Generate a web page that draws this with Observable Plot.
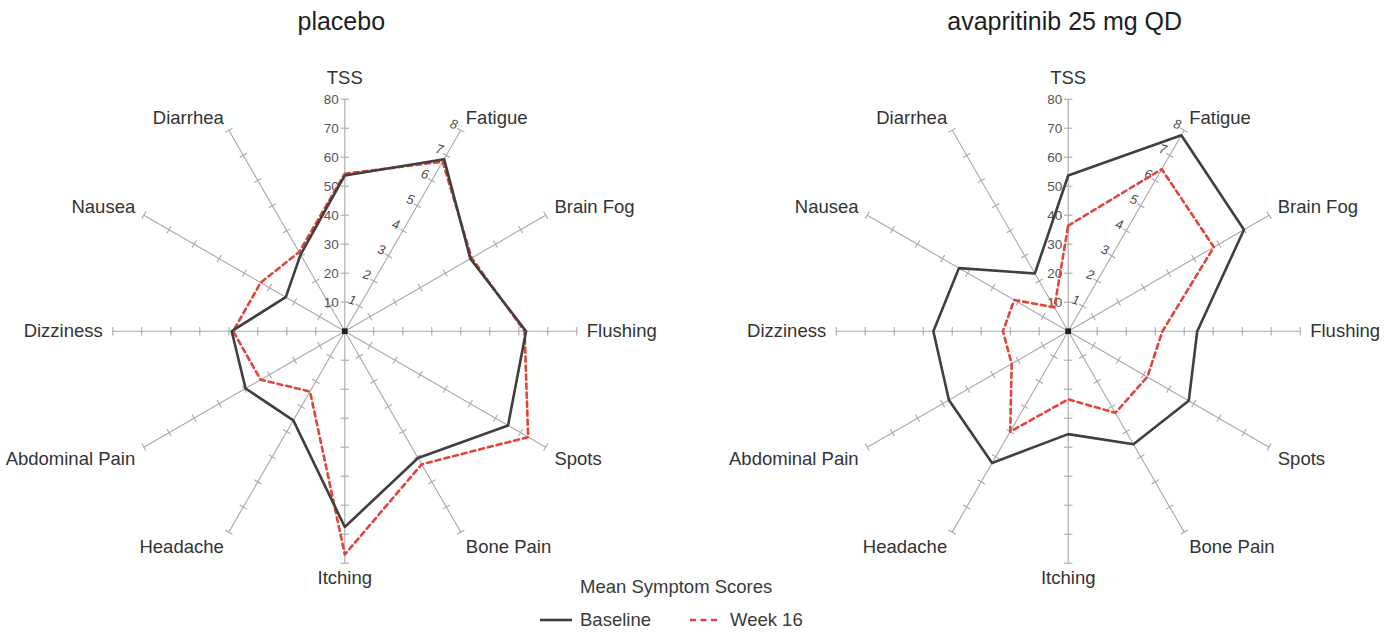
<!DOCTYPE html>
<html>
<head>
<meta charset="utf-8">
<script src="https://cdn.jsdelivr.net/npm/d3@7"></script>
<script src="https://cdn.jsdelivr.net/npm/@observablehq/plot@0.6"></script>
<style>
  body { margin: 0; background: #fff; font-family: "Liberation Sans", Arial, sans-serif; }
  #wrap { position: relative; width: 1397px; height: 634px; overflow: hidden; }
  #chart { position: absolute; left: 0; top: 0; }
  .title { position: absolute; top: 9px; font-size: 25px; line-height: 25px; color: #1e1e1e; transform: translateX(-50%); white-space: nowrap; }
  .legend-title { position: absolute; left: 580px; top: 578px; font-size: 18.5px; line-height: 18.5px; color: #3a3a3a; white-space: nowrap; }
  .legend-item { position: absolute; top: 610px; font-size: 18.5px; line-height: 20px; color: #3a3a3a; white-space: nowrap; }
  .legend-swatch { position: absolute; top: 613px; }
</style>
</head>
<body>
<div id="wrap">
  <div id="chart"></div>
</div>
<script>
// Symptom axes, clockwise from the top
const categories = ["TSS", "Fatigue", "Brain Fog", "Flushing", "Spots", "Bone Pain", "Itching", "Headache", "Abdominal Pain", "Dizziness", "Nausea", "Diarrhea"];
const panels = ["placebo", "avapritinib 25 mg QD"];
const seriesNames = ["Baseline", "Week 16"];

// Mean symptom scores (TSS on a 0–80 scale, other symptoms 0–8)
const placeboBaseline     = [53.7, 6.85, 5.0, 6.25, 6.5, 5.05, 6.75, 3.55, 3.95, 3.9, 2.35, 3.05];
const placeboWeek16       = [54.3, 6.75, 5.05, 6.2, 7.3, 5.3, 7.7, 2.4, 3.35, 3.85, 3.35, 3.15];
const avapritinibBaseline = [53.7, 7.8, 7.0, 4.45, 4.8, 4.5, 3.55, 5.25, 4.75, 4.65, 4.35, 2.3];
const avapritinibWeek16   = [36.4, 6.45, 5.8, 3.25, 3.15, 3.25, 2.35, 4.0, 2.25, 2.25, 2.15, 0.95];

// Axis tick labels
const tssTicks = [10, 20, 30, 40, 50, 60, 70, 80];
const symptomTicks = [1, 2, 3, 4, 5, 6, 7, 8];
const maxScore = 8;
const tssFactor = 10;

// Layout (pixels)
const W = 1397, H = 634;
const PX = 29;                       // pixels per score unit
const centers = [[344.3, 330.7], [1067.7, 330.7]];
const baseX = centers[0][0], baseY = centers[0][1];
const panelOffset = centers.map(([cx]) => (cx - baseX) / PX);

const colors = { "Baseline": "#3f3f3f", "Week 16": "#e0453a" };

const angle = i => (i * 2 * Math.PI) / categories.length;
const polar = (p, i, r) => ({ x: panelOffset[p] + r * Math.sin(angle(i)), y: r * Math.cos(angle(i)) });

// Spokes
const spokes = [];
panels.forEach((_, p) => categories.forEach((c, i) => {
  const a = polar(p, i, 0), b = polar(p, i, maxScore);
  spokes.push({ x1: a.x, y1: a.y, x2: b.x, y2: b.y });
}));

// Tick marks across each spoke
const tickHalf = 4.2 / PX;
const ticks = [];
panels.forEach((_, p) => categories.forEach((c, i) => {
  symptomTicks.forEach(t => {
    const m = polar(p, i, t);
    const px = Math.cos(angle(i)) * tickHalf, py = -Math.sin(angle(i)) * tickHalf;
    ticks.push({ x1: m.x - px, y1: m.y - py, x2: m.x + px, y2: m.y + py });
  });
}));

// Series polygons
const seriesValues = [
  [placeboBaseline, placeboWeek16],
  [avapritinibBaseline, avapritinibWeek16]
];
const rows = [];
panels.forEach((panel, p) => seriesNames.forEach((s, k) => {
  seriesValues[p][k].forEach((v, i) => {
    const r = i === 0 ? v / tssFactor : v;
    rows.push({ panel, series: s, key: panel + "|" + s, category: categories[i], value: v, ...polar(p, i, r) });
  });
}));

// Scale labels: TSS (0–80) on the vertical spoke, symptom scores along Fatigue
const tssLabels = [];
const fatigueLabels = [];
panels.forEach((_, p) => {
  tssTicks.forEach(t => tssLabels.push({ text: String(t), ...polar(p, 0, t / tssFactor) }));
  symptomTicks.forEach(t => fatigueLabels.push({ text: String(t), ...polar(p, 1, t) }));
});

// Category labels just past each spoke end
const axisLabels = [];
panels.forEach((_, p) => categories.forEach((c, i) => {
  const s = Math.sin(angle(i)), co = Math.cos(angle(i));
  const pos = polar(p, i, maxScore + 10 / PX);
  let dyPx;
  if (Math.abs(s) < 0.01) dyPx = co > 0 ? -11 : 5;
  else if (Math.abs(co) < 0.01) dyPx = 0;
  else dyPx = co > 0 ? -3.5 : 6.5;
  const anchor = s > 0.01 ? "start" : s < -0.01 ? "end" : "middle";
  axisLabels.push({ text: c, anchor, x: pos.x, y: pos.y - dyPx / PX });
}));

const labelFont = 18.5;
const labelColor = "#333";

const chart = Plot.plot({
  width: W,
  height: H,
  margin: 0,
  x: { domain: [-baseX / PX, (W - baseX) / PX], axis: null },
  y: { domain: [-(H - baseY) / PX, baseY / PX], axis: null },
  style: { fontFamily: '"Liberation Sans", Arial, sans-serif', background: "transparent", overflow: "visible" },
  marks: [
    Plot.link(spokes, { x1: "x1", y1: "y1", x2: "x2", y2: "y2", stroke: "#a8a8a8", strokeWidth: 1.1 }),
    Plot.link(ticks, { x1: "x1", y1: "y1", x2: "x2", y2: "y2", stroke: "#a8a8a8", strokeWidth: 1.1 }),
    Plot.text(tssLabels, { x: "x", y: "y", text: "text", textAnchor: "end", dx: -6, fontSize: 13.5, fill: "#555" }),
    Plot.text(fatigueLabels, { x: "x", y: "y", text: "text", dx: -7, dy: -6, fontSize: 13, fontStyle: "italic", rotate: 15, fill: "#4a4a4a" }),
    Plot.line(rows.filter(d => d.series === "Week 16"), {
      x: "x", y: "y", z: "key", curve: "linear-closed",
      stroke: colors["Week 16"], strokeWidth: 2.6, strokeDasharray: "5,4"
    }),
    Plot.line(rows.filter(d => d.series === "Baseline"), {
      x: "x", y: "y", z: "key", curve: "linear-closed",
      stroke: colors["Baseline"], strokeWidth: 2.6
    }),
    Plot.dot(panels.map((_, p) => polar(p, 0, 0)), { x: "x", y: "y", symbol: "square", r: 3.2, fill: "#1e1e1e" }),
    ...["start", "end", "middle"].map(a =>
      Plot.text(axisLabels.filter(d => d.anchor === a), {
        x: "x", y: "y", text: "text", textAnchor: a, fontSize: labelFont, fill: labelColor
      })
    )
  ]
});
document.getElementById("chart").appendChild(chart);

// Panel titles above each radar
const wrap = document.getElementById("wrap");
panels.forEach((t, p) => {
  const el = document.createElement("div");
  el.className = "title";
  el.textContent = t;
  el.style.left = (centers[p][0] - 3) + "px";
  wrap.appendChild(el);
});

// Legend below the charts
const legendTitle = document.createElement("div");
legendTitle.className = "legend-title";
legendTitle.textContent = "Mean Symptom Scores";
wrap.appendChild(legendTitle);

const legendItems = [
  { name: "Baseline", swatchX: 540, swatchW: 32, textX: 580, dash: null },
  { name: "Week 16", swatchX: 690, swatchW: 29, textX: 730, dash: "6,4.5" }
];
legendItems.forEach(item => {
  const sw = d3.create("svg")
    .attr("class", "legend-swatch")
    .attr("width", item.swatchW)
    .attr("height", 14)
    .style("left", item.swatchX + "px");
  sw.append("line")
    .attr("x1", 0).attr("x2", item.swatchW)
    .attr("y1", 7).attr("y2", 7)
    .attr("stroke", colors[item.name])
    .attr("stroke-width", 2.6)
    .attr("stroke-dasharray", item.dash);
  wrap.appendChild(sw.node());
  const lbl = document.createElement("div");
  lbl.className = "legend-item";
  lbl.style.left = item.textX + "px";
  lbl.textContent = item.name;
  wrap.appendChild(lbl);
});
</script>
</body>
</html>
